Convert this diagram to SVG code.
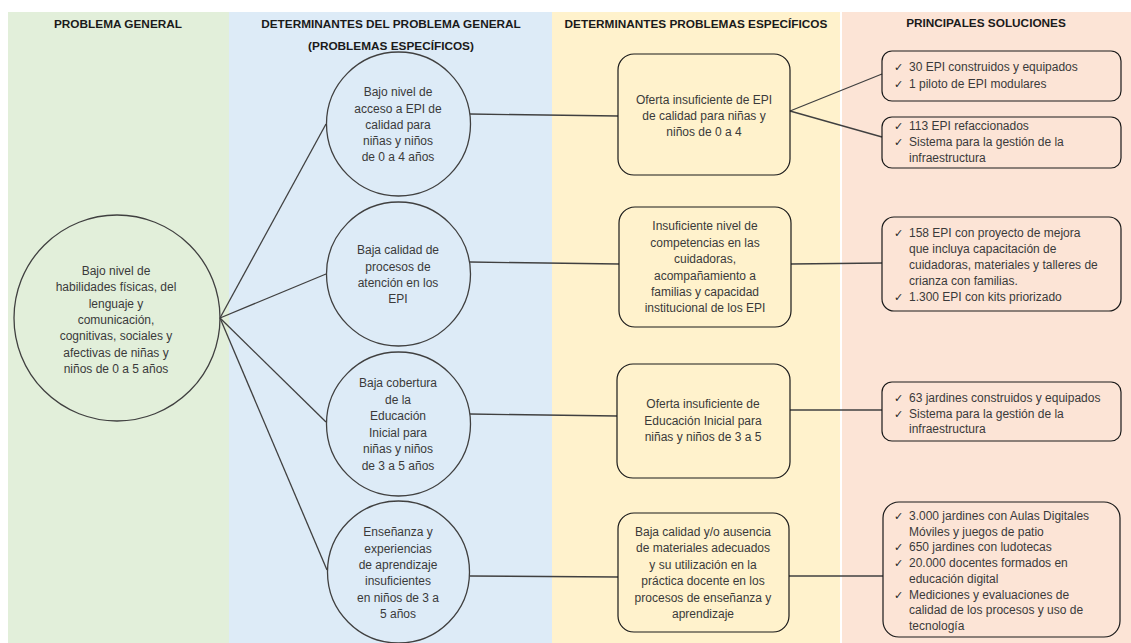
<svg xmlns="http://www.w3.org/2000/svg" width="1131" height="643" viewBox="0 0 1131 643">
<style>
.hd{font-family:"Liberation Sans",Arial,sans-serif;font-weight:bold;font-size:11.8px;fill:#1a1a1a;text-anchor:middle}
.t{font-family:"Liberation Sans",Arial,sans-serif;font-size:12px;fill:#3a3a3a;text-anchor:middle}
.s{font-family:"Liberation Sans",Arial,sans-serif;font-size:12px;fill:#3a3a3a}
.ck{font-family:"DejaVu Sans",sans-serif;font-size:11px;fill:#262626}
.c{fill:none;stroke:#404040;stroke-width:1.3}
.b{fill:none;stroke:#1a1a1a;stroke-width:1.2}
.ln{stroke:#404040;stroke-width:1.3;fill:none}
</style>
<rect width="1131" height="643" fill="#ffffff"/>
<g id="columns">
<rect x="8" y="12" width="221" height="631" fill="#e2efda"/>
<rect x="229" y="12" width="323" height="631" fill="#ddebf7"/>
<rect x="552" y="12" width="288" height="631" fill="#fff2cc"/>
<rect x="842" y="12" width="289" height="631" fill="#fce4d6"/>
</g>
<g id="headers">
<text class="hd" x="118" y="28">PROBLEMA GENERAL</text>
<text class="hd" x="391" y="28">DETERMINANTES DEL PROBLEMA GENERAL</text>
<text class="hd" x="391" y="50">(PROBLEMAS ESPECÍFICOS)</text>
<text class="hd" x="696" y="28">DETERMINANTES PROBLEMAS ESPECÍFICOS</text>
<text class="hd" x="986" y="27">PRINCIPALES SOLUCIONES</text>
</g>
<g id="connectors">
<line class="ln" x1="220" y1="318" x2="326" y2="124"/>
<line class="ln" x1="220" y1="318" x2="326" y2="274"/>
<line class="ln" x1="220" y1="318" x2="326" y2="422"/>
<line class="ln" x1="220" y1="318" x2="327" y2="570"/>
<line class="ln" x1="470" y1="114" x2="618" y2="116"/>
<line class="ln" x1="470" y1="262" x2="619" y2="264"/>
<line class="ln" x1="470" y1="414" x2="617" y2="416"/>
<line class="ln" x1="470" y1="576" x2="618" y2="577"/>
<line class="ln" x1="790" y1="111" x2="882" y2="74"/>
<line class="ln" x1="790" y1="111" x2="882" y2="137"/>
<line class="ln" x1="791" y1="264" x2="882" y2="263"/>
<line class="ln" x1="790" y1="410" x2="882" y2="410"/>
<line class="ln" x1="789" y1="576" x2="883" y2="576"/>
</g>
<g id="problema-general">
<circle class="c" cx="117" cy="318" r="103"/>
<text class="t" x="116" y="275">Bajo nivel de</text>
<text class="t" x="116" y="291.3">habilidades físicas, del</text>
<text class="t" x="116" y="307.6">lenguaje y</text>
<text class="t" x="116" y="323.9">comunicación,</text>
<text class="t" x="116" y="340.2">cognitivas, sociales y</text>
<text class="t" x="116" y="356.5">afectivas de niñas y</text>
<text class="t" x="116" y="372.8">niños de 0  a 5  años</text>
</g>
<g id="det-1">
<circle class="c" cx="398.5" cy="124" r="72"/>
<text class="t" x="398" y="96">Bajo nivel de</text>
<text class="t" x="398" y="112.5">acceso  a EPI de</text>
<text class="t" x="398" y="128.5">calidad para</text>
<text class="t" x="398" y="145">niñas y niños</text>
<text class="t" x="398" y="161">de 0 a 4  años</text>
</g>
<g id="det-2">
<circle class="c" cx="398.5" cy="274" r="72"/>
<text class="t" x="398" y="254">Baja calidad de</text>
<text class="t" x="398" y="270.5">procesos de</text>
<text class="t" x="398" y="286.5">atención en los</text>
<text class="t" x="398" y="303">EPI</text>
</g>
<g id="det-3">
<circle class="c" cx="398.5" cy="424" r="72"/>
<text class="t" x="398" y="387">Baja cobertura</text>
<text class="t" x="398" y="403.5">de la</text>
<text class="t" x="398" y="420">Educación</text>
<text class="t" x="398" y="436.5">Inicial para</text>
<text class="t" x="398" y="453">niñas y niños</text>
<text class="t" x="398" y="469.5">de 3 a 5  años</text>
</g>
<g id="det-4">
<circle class="c" cx="398.5" cy="572" r="71"/>
<text class="t" x="398" y="536">Enseñanza y</text>
<text class="t" x="398" y="552.5">experiencias</text>
<text class="t" x="398" y="569">de aprendizaje</text>
<text class="t" x="398" y="585">insuficientes</text>
<text class="t" x="398" y="601.5">en niños de 3  a</text>
<text class="t" x="398" y="618">5 años</text>
</g>
<g id="esp-1">
<rect class="b" x="618" y="54" width="172" height="121" rx="16"/>
<text class="t" x="704" y="104">Oferta insuficiente de EPI</text>
<text class="t" x="704" y="120">de calidad para niñas y</text>
<text class="t" x="704" y="136">niños de 0  a 4</text>
</g>
<g id="esp-2">
<rect class="b" x="619" y="207" width="172" height="120" rx="16"/>
<text class="t" x="705" y="230">Insuficiente nivel de</text>
<text class="t" x="705" y="246.5">competencias en las</text>
<text class="t" x="705" y="263">cuidadoras,</text>
<text class="t" x="705" y="279.5">acompañamiento  a</text>
<text class="t" x="705" y="296">familias y capacidad</text>
<text class="t" x="705" y="312">institucional de los EPI</text>
</g>
<g id="esp-3">
<rect class="b" x="617" y="364" width="173" height="114" rx="16"/>
<text class="t" x="703" y="408">Oferta insuficiente de</text>
<text class="t" x="703" y="424.5">Educación Inicial para</text>
<text class="t" x="703" y="441">niñas y niños de 3 a 5</text>
</g>
<g id="esp-4">
<rect class="b" x="618" y="513" width="171" height="119" rx="16"/>
<text class="t" x="703" y="535.5">Baja calidad y/o ausencia</text>
<text class="t" x="703" y="552">de materiales adecuados</text>
<text class="t" x="703" y="568.5">y su utilización en la</text>
<text class="t" x="703" y="585">práctica  docente en los</text>
<text class="t" x="703" y="601.5">procesos de enseñanza y</text>
<text class="t" x="703" y="618">aprendizaje</text>
</g>
<g id="sol-1">
<rect class="b" x="882" y="51" width="239" height="50" rx="10"/>
<text class="ck" x="894" y="71">✓</text><text class="s" x="909" y="71">30 EPI construidos y equipados</text>
<text class="ck" x="894" y="88">✓</text><text class="s" x="909" y="88">1 piloto de EPI modulares</text>
</g>
<g id="sol-2">
<rect class="b" x="882" y="117" width="239" height="51" rx="10"/>
<text class="ck" x="894" y="130">✓</text><text class="s" x="909" y="130">113  EPI refaccionados</text>
<text class="ck" x="894" y="146">✓</text><text class="s" x="909" y="146">Sistema para  la gestión de la</text>
<text class="s" x="909" y="162">infraestructura</text>
</g>
<g id="sol-3">
<rect class="b" x="882" y="217" width="239" height="94" rx="12"/>
<text class="ck" x="894" y="237">✓</text><text class="s" x="909" y="237">158  EPI con proyecto de mejora</text>
<text class="s" x="909" y="253">que incluya capacitación  de</text>
<text class="s" x="909" y="269">cuidadoras, materiales y talleres de</text>
<text class="s" x="909" y="285">crianza con  familias.</text>
<text class="ck" x="894" y="301">✓</text><text class="s" x="909" y="301">1.300  EPI con  kits priorizado</text>
</g>
<g id="sol-4">
<rect class="b" x="882" y="382" width="239" height="59" rx="10"/>
<text class="ck" x="894" y="402">✓</text><text class="s" x="909" y="402">63  jardines construidos y equipados</text>
<text class="ck" x="894" y="417.5">✓</text><text class="s" x="909" y="417.5">Sistema para  la gestión de la</text>
<text class="s" x="909" y="433">infraestructura</text>
</g>
<g id="sol-5">
<rect class="b" x="883" y="502" width="237" height="135" rx="16"/>
<text class="ck" x="894" y="520">✓</text><text class="s" x="909" y="520">3.000  jardines con Aulas Digitales</text>
<text class="s" x="909" y="535.7">Móviles y juegos de patio</text>
<text class="ck" x="894" y="551.4">✓</text><text class="s" x="909" y="551.4">650  jardines con ludotecas</text>
<text class="ck" x="894" y="567.1">✓</text><text class="s" x="909" y="567.1">20.000  docentes formados en</text>
<text class="s" x="909" y="582.8">educación digital</text>
<text class="ck" x="894" y="598.5">✓</text><text class="s" x="909" y="598.5">Mediciones y evaluaciones de</text>
<text class="s" x="909" y="614.2">calidad de los procesos y uso de</text>
<text class="s" x="909" y="629.9">tecnología</text>
</g>
</svg>
